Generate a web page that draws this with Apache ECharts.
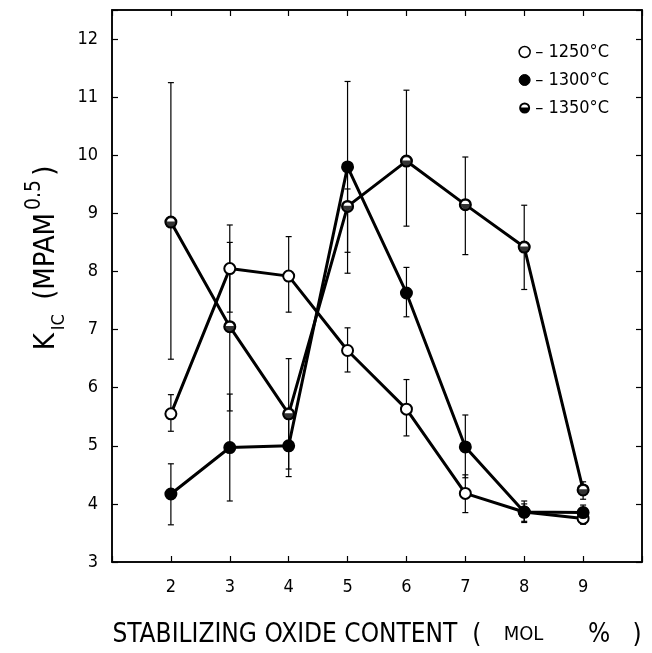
<!DOCTYPE html>
<html>
<head>
<meta charset="utf-8">
<script src="https://cdn.jsdelivr.net/npm/echarts@6/dist/echarts.min.js"></script>
<style>
  html, body { margin: 0; padding: 0; background: #fff; }
  #main { width: 652px; height: 653px; }
</style>
</head>
<body>
<div id="main"></div>
<script>
// oxide content (mol %)
var xValues = [2, 3, 4, 5, 6, 7, 8, 9];
var xTicks = [2, 3, 4, 5, 6, 7, 8, 9];
var yTicks = [3, 4, 5, 6, 7, 8, 9, 10, 11, 12];

// K_IC, sintered at 1250 C
var k1250 = [5.55, 8.05, 7.92, 6.64, 5.63, 4.18, 3.86, 3.75];
var lo1250 = [5.25, 7.30, 7.30, 6.27, 5.17, 3.85, 3.68, 3.65];
var hi1250 = [5.88, 8.80, 8.60, 7.03, 6.14, 4.50, 4.05, 3.90];

// 1300 C
var k1300 = [4.17, 4.97, 5.00, 9.80, 7.63, 4.98, 3.86, 3.85];
var lo1300 = [3.64, 4.05, 4.47, 8.33, 7.22, 4.45, 3.70, 3.75];
var hi1300 = [4.69, 5.89, 5.53, 11.27, 8.07, 5.53, 4.00, 3.98];

// 1350 C
var k1350 = [8.85, 7.05, 5.55, 9.12, 9.90, 9.15, 8.42, 4.24];
var lo1350 = [6.49, 5.60, 4.60, 7.97, 8.78, 8.29, 7.69, 4.08];
var hi1350 = [11.25, 8.50, 6.50, 9.42, 11.12, 9.97, 9.14, 4.38];

var fontFam = '"DejaVu Sans Condensed", "Liberation Sans Narrow", sans-serif';
// ring with its lower half filled
var halfIcon = 'path://M0,10 A10,10 0 1,1 20,10 A10,10 0 1,1 0,10 Z M3.5,10 A6.5,6.5 0 1,0 16.5,10 A6.5,6.5 0 1,0 3.5,10 Z ' +
    'M3,9 L17,9 L16.47,12.68 L14.95,14.95 L12.68,16.47 L10,17 L7.32,16.47 L5.05,14.95 L3.53,12.68 Z';

function pairs(ys) {
    return xValues.map(function (x, i) { return [x, ys[i]]; });
}

function errData(lo, hi) {
    return xValues.map(function (x, i) { return [x, lo[i], hi[i]]; });
}

function renderErr(params, api) {
    var top = api.coord([api.value(0), api.value(2)]);
    var bot = api.coord([api.value(0), api.value(1)]);
    var cap = 3;
    var st = { stroke: '#000', lineWidth: 1.2 };
    return {
        type: 'group',
        children: [
            { type: 'line', shape: { x1: top[0], y1: top[1], x2: bot[0], y2: bot[1] }, style: st },
            { type: 'line', shape: { x1: top[0] - cap, y1: top[1], x2: top[0] + cap, y2: top[1] }, style: st },
            { type: 'line', shape: { x1: bot[0] - cap, y1: bot[1], x2: bot[0] + cap, y2: bot[1] }, style: st }
        ]
    };
}

function lineSeries(name, ys, fill) {
    return {
        name: name,
        type: 'line',
        data: pairs(ys),
        symbol: 'circle',
        symbolSize: 11,
        z: 3,
        lineStyle: { color: '#000', width: 3 },
        itemStyle: { color: fill, borderColor: '#000', borderWidth: 2 }
    };
}

function errSeries(name, lo, hi) {
    return {
        name: name + ' err',
        type: 'custom',
        renderItem: renderErr,
        data: errData(lo, hi),
        z: 2,
        silent: true
    };
}

var axisLineStyle = { show: true, lineStyle: { color: '#000', width: 1.5 } };
var tickStyle = { show: true, inside: true, length: 6, lineStyle: { color: '#000', width: 1.2 } };

var chart = echarts.init(document.getElementById('main'));
chart.setOption({
    animation: false,
    backgroundColor: '#fff',
    grid: { left: 112, right: 10, top: 10, bottom: 78, show: true, borderColor: '#000', borderWidth: 1.5 },
    legend: {
        orient: 'vertical',
        right: 38,
        top: 38,
        itemWidth: 11,
        itemHeight: 11,
        itemGap: 10,
        textStyle: { fontFamily: fontFam, fontSize: 18, color: '#000' },
        formatter: function (name) { return '\u2013 ' + name + '\u00b0C'; },
        data: [
            { name: '1250', icon: 'circle', itemStyle: { color: '#fff', borderColor: '#000', borderWidth: 1.5 } },
            { name: '1300', icon: 'circle', itemStyle: { color: '#000', borderColor: '#000', borderWidth: 1 } },
            { name: '1350', icon: halfIcon, itemStyle: { color: '#000', borderWidth: 0 } }
        ]
    },
    xAxis: [{
        type: 'value',
        min: 1,
        max: 10,
        interval: 1,
        position: 'bottom',
        axisLine: axisLineStyle,
        axisTick: tickStyle,
        splitLine: { show: false },
        axisLabel: {
            margin: 16,
            fontFamily: fontFam,
            fontSize: 18,
            color: '#000',
            formatter: function (v) { return xTicks.indexOf(v) >= 0 ? String(v) : ''; }
        },
        name: '{a|STABILIZING OXIDE CONTENT  (   }{b|MOL}{a|      %   )}',
        nameLocation: 'middle',
        nameGap: 60,
        nameTextStyle: {
            rich: {
                a: { fontFamily: fontFam, fontSize: 26, color: '#000' },
                b: { fontFamily: fontFam, fontSize: 20, color: '#000' }
            }
        }
    }, {
        type: 'value',
        min: 1,
        max: 10,
        interval: 1,
        position: 'top',
        axisLine: axisLineStyle,
        axisTick: tickStyle,
        axisLabel: { show: false },
        splitLine: { show: false }
    }],
    yAxis: [{
        type: 'value',
        min: 3,
        max: 12.5,
        interval: 1,
        axisLine: axisLineStyle,
        axisTick: tickStyle,
        splitLine: { show: false },
        axisLabel: {
            margin: 14,
            fontFamily: fontFam,
            fontSize: 18,
            color: '#000',
            formatter: function (v) { return yTicks.indexOf(v) >= 0 ? String(v) : ''; }
        }
    }, {
        type: 'value',
        min: 3,
        max: 12.5,
        interval: 1,
        position: 'right',
        axisLine: axisLineStyle,
        axisTick: tickStyle,
        axisLabel: { show: false },
        splitLine: { show: false }
    }],
    graphic: [{
        type: 'text',
        x: 46,
        y: 258,
        rotation: Math.PI / 2,
        style: {
            text: '{k|K}{s|IC}{k| (MPAM}{p|0.5}{k|)}',
            align: 'center',
            verticalAlign: 'middle',
            rich: {
                k: { fontFamily: fontFam, fontSize: 29, color: '#000', lineHeight: 44, verticalAlign: 'middle' },
                s: { fontFamily: fontFam, fontSize: 18, color: '#000', lineHeight: 44, verticalAlign: 'bottom', padding: [0, 6, 0, 3] },
                p: { fontFamily: fontFam, fontSize: 21, color: '#000', lineHeight: 44, verticalAlign: 'top', padding: [0, 4, 0, 3] }
            }
        }
    }],
    series: [
        errSeries('1250', lo1250, hi1250),
        errSeries('1300', lo1300, hi1300),
        errSeries('1350', lo1350, hi1350),
        lineSeries('1250', k1250, '#fff'),
        lineSeries('1300', k1300, '#000'),
        lineSeries('1350', k1350, '#fff'),
        {
            name: '1350 half',
            type: 'scatter',
            data: pairs(k1350),
            symbol: halfIcon,
            symbolSize: 12,
            z: 4,
            silent: true,
            itemStyle: { color: '#000' }
        }
    ]
});
</script>
</body>
</html>
